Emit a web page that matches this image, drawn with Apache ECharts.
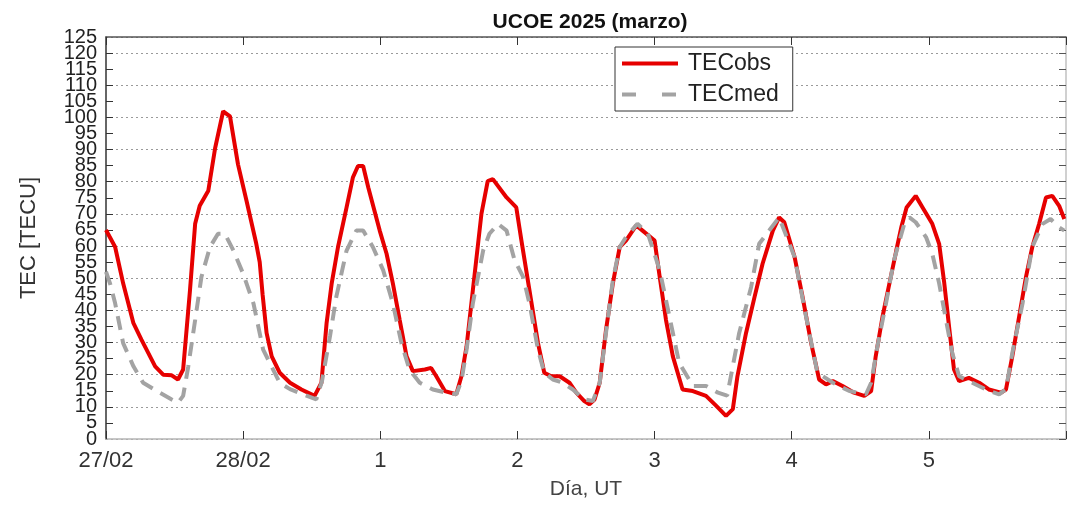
<!DOCTYPE html>
<html>
<head>
<meta charset="utf-8">
<script src="https://cdn.jsdelivr.net/npm/echarts@6/dist/echarts.min.js"></script>
<style>
html,body{margin:0;padding:0;background:#fff;}
#chart{width:1072px;height:505px;}
</style>
</head>
<body>
<div id="chart"></div>
<script>
// Hours since 27/02 00:00 UT
const xLabels = ['27/02', '28/02', '1', '2', '3', '4', '5'];

const obsHours = [0,1.6,3.0,4.8,6.2,8.6,10.0,11.5,12.6,13.5,
  14.7,15.6,16.4,17.9,19.1,20.5,21.7,23.1,24.6,26.3,
  26.9,27.4,28.1,29.0,30.4,32.2,34.2,36.5,37.7,38.6,
  39.5,40.6,42.1,43.2,44.1,45.0,45.9,47.9,49.1,50.2,
  51.4,52.6,53.7,55.8,56.9,57.8,59.3,61.3,62.2,63.1,
  64.2,65.7,66.8,67.7,70.1,71.8,72.7,74.1,75.6,76.7,
  77.9,79.4,81.1,82.3,83.7,84.6,85.5,86.4,87.5,88.7,
  89.9,91.0,92.8,93.9,96.0,96.9,98.0,99.2,100.9,102.7,
  105.0,106.8,108.5,109.7,110.5,112.0,113.5,114.9,116.7,117.8,
  118.7,120.5,121.9,123.4,124.8,126.0,127.2,128.9,130.9,132.7,
  133.9,134.7,135.9,137.1,138.3,139.2,140.1,141.7,142.9,144.6,
  145.8,146.7,147.6,148.4,149.3,151.0,152.8,154.5,156.6,157.5,
  158.6,159.8,161.0,162.1,163.3,164.5,165.6,166.8,167.7];
const obsTEC = [65,59.7,48.4,36,30.9,22.6,20,19.8,18.5,21.6,
  46.3,66.9,72.5,77.2,90.5,101.9,100.3,85.4,74,60.7,
  55,45,33,25.7,20.6,17.5,15.4,13.4,17.5,36,
  48.4,59.7,72,81.3,84.9,84.9,78.2,64.8,57.6,48.4,
  37,25.7,21.1,21.6,22.1,19.5,14.9,13.9,19.5,28.8,
  46.3,70,80.2,80.8,75.1,72,61.7,46.3,29.8,20.6,
  19.5,19.5,17.5,14.4,11.8,10.8,12.3,17.5,33.9,48.4,
  59.7,61.7,66.4,64.8,61.7,50.4,37,25.7,15.4,14.9,
  13.4,10.3,7.2,9.3,19.5,32.9,44.2,54.5,64.8,68.9,
  67.4,56.6,44.2,29.8,18.5,17,18,16.5,14.4,13.4,
  14.9,25.7,38.1,48.4,58.6,66,72,75.6,72,66.9,
  60.7,48.4,33.9,21.6,18,19,17.5,15.4,14.4,15.4,
  25.7,38.1,50.4,59.7,66.9,75.1,75.6,72.5,68.4];

const medHours = [0,0.7,1.6,3.0,4.8,6.5,9.4,11.5,12.6,13.5,
  14.4,15.6,16.7,18.2,19.6,20.8,22.3,24.0,25.8,27.5,
  30.4,32.2,36.8,37.8,39.2,40.3,42.1,43.8,45.0,46.7,
  48.5,50.2,51.7,53.1,54.9,57.2,59.6,61.3,62.2,63.1,
  64.2,66.0,67.1,68.6,70.1,71.5,73.0,74.1,75.6,76.7,
  78.2,79.9,81.7,83.7,85.2,86.4,87.5,88.7,89.9,91.0,
  93.0,94.8,96.9,98.6,100.3,102.7,105.0,107.1,108.7,110.8,
  112.9,114.3,117.8,120.5,122.5,124.5,127.2,130.1,133.0,133.9,
  135.0,136.5,137.9,139.7,140.6,141.7,143.5,144.6,145.8,147.0,
  148.1,149.3,151.6,154.0,156.3,157.5,158.6,160.4,162.1,163.9,
  165.3,166.8,167.7];
const medTEC = [52,48.4,42.2,29.8,22.6,17.5,14.4,12.3,11.3,13.4,
  22.6,37,50.4,59.7,63.8,63.8,58.6,51.4,42.2,27.8,
  17.5,15.5,12.3,18,32,44.2,58.6,64.8,64.8,59.7,
  52.5,42.2,29.8,21.6,17.5,15.4,14.4,13.9,18,27.8,
  42.2,58.6,63.8,66.9,64.8,55.6,50.4,42.2,27.8,20.6,
  18.5,17.5,15.4,12.3,11.8,17.5,33,49.4,59.7,62.8,
  66.9,64,52.5,38.1,23.7,16.5,16.5,14.4,13.5,32.9,
  47.3,60.7,68.9,56.6,38.1,20.6,17.5,14.9,13.9,17.5,
  28.8,42.2,55.6,66.9,68.9,67.4,62.8,57.6,48.4,37,
  26.7,19.5,17.5,15.4,13.9,15.5,26.7,42.2,59.7,66.9,
  68.4,65.8,64.8];

const zip = (a, b) => a.map((v, i) => [v, b[i]]);
const FONT = 'Liberation Sans, Arial, sans-serif';
const RED = '#e60000';
const GRAY = '#a3a3a3';
const yLabelStyle = {fontSize: 20, color: '#222', margin: 9, fontFamily: FONT};

const chart = echarts.init(document.getElementById('chart'), null, {renderer: 'canvas'});
chart.setOption({
  animation: false,
  backgroundColor: '#fff',
  textStyle: {fontFamily: FONT},
  title: {
    text: 'UCOE 2025 (marzo)',
    left: 585, top: 7, textAlign: 'center',
    textStyle: {fontSize: 21, fontWeight: 'bold', color: '#111', fontFamily: FONT}
  },
  legend: {
    left: 615, top: 47, orient: 'vertical',
    itemWidth: 56, itemHeight: 14, itemGap: 8,
    padding: [5, 14, 5, 5],
    borderColor: '#333', borderWidth: 1, backgroundColor: '#fff',
    itemStyle: {opacity: 0},
    textStyle: {fontSize: 23, color: '#222', lineHeight: 22, padding: [0, 0, 0, 5], fontFamily: FONT},
    data: [
      {name: 'TECobs', lineStyle: {color: RED, width: 4}},
      {name: 'TECmed', lineStyle: {color: GRAY, width: 4, type: [14, 26]}}
    ]
  },
  grid: {left: 106, right: 6, top: 37, bottom: 64, show: false},
  xAxis: [
    {
      type: 'value', min: 0, max: 168, interval: 24, position: 'bottom',
      axisLine: {show: true, onZero: false, lineStyle: {color: '#b5b5b5', width: 1.5}},
      axisTick: {show: true, inside: true, length: 8, lineStyle: {color: '#333'}},
      axisLabel: {formatter: v => xLabels[Math.round(v / 24)] || '', fontSize: 22, color: '#333', margin: 11, fontFamily: FONT},
      splitLine: {show: false},
      name: 'Día, UT', nameLocation: 'middle', nameGap: 40,
      nameTextStyle: {fontSize: 21, color: '#444', fontFamily: FONT}
    },
    {
      type: 'value', min: 0, max: 168, interval: 24, position: 'top',
      axisLine: {show: true, onZero: false, lineStyle: {color: '#555', width: 1.5}},
      axisTick: {show: true, inside: true, length: 8, lineStyle: {color: '#333'}},
      axisLabel: {show: false}, splitLine: {show: false}
    }
  ],
  yAxis: [
    {
      type: 'value', min: 0, max: 125, interval: 5, position: 'left',
      axisLine: {show: true, onZero: false, lineStyle: {color: '#333', width: 1.5}},
      axisTick: {show: true, inside: true, length: 7, lineStyle: {color: '#333'}},
      axisLabel: Object.assign({showMinLabel: false, showMaxLabel: false}, yLabelStyle),
      splitLine: {show: false},
      name: 'TEC [TECU]', nameLocation: 'middle', nameGap: 66, nameRotate: 90,
      nameTextStyle: {fontSize: 22, color: '#333', fontFamily: FONT}
    },
    {
      type: 'value', min: 0, max: 125, interval: 5, position: 'right',
      axisLine: {show: true, onZero: false, lineStyle: {color: '#c0c0c0', width: 1.5}},
      axisTick: {show: true, inside: true, length: 7, lineStyle: {color: '#555'}},
      axisLabel: {show: false}, splitLine: {show: false}
    },
    {
      type: 'value', min: 0, max: 125, interval: 10, position: 'left',
      axisLine: {show: false, onZero: false}, axisTick: {show: false}, axisLabel: {show: false},
      splitLine: {show: true, lineStyle: {color: '#9a9a9a', width: 1, type: [2, 3]}}
    },
    {
      type: 'value', min: 0, max: 125, interval: 125, position: 'left',
      axisLine: {show: false, onZero: false}, axisTick: {show: false},
      axisLabel: Object.assign({showMinLabel: true, showMaxLabel: true}, yLabelStyle),
      splitLine: {show: false}
    }
  ],
  series: [
    {
      name: 'TECobs', type: 'line', xAxisIndex: 0, yAxisIndex: 0,
      data: zip(obsHours, obsTEC), symbol: 'none', showSymbol: false,
      lineStyle: {color: RED, width: 4}, itemStyle: {color: RED}, z: 3
    },
    {
      name: 'TECmed', type: 'line', xAxisIndex: 0, yAxisIndex: 0,
      data: zip(medHours, medTEC), symbol: 'none', showSymbol: false,
      lineStyle: {color: GRAY, width: 4, type: [14, 9]}, itemStyle: {color: GRAY}, z: 4
    }
  ]
});
</script>
</body>
</html>
